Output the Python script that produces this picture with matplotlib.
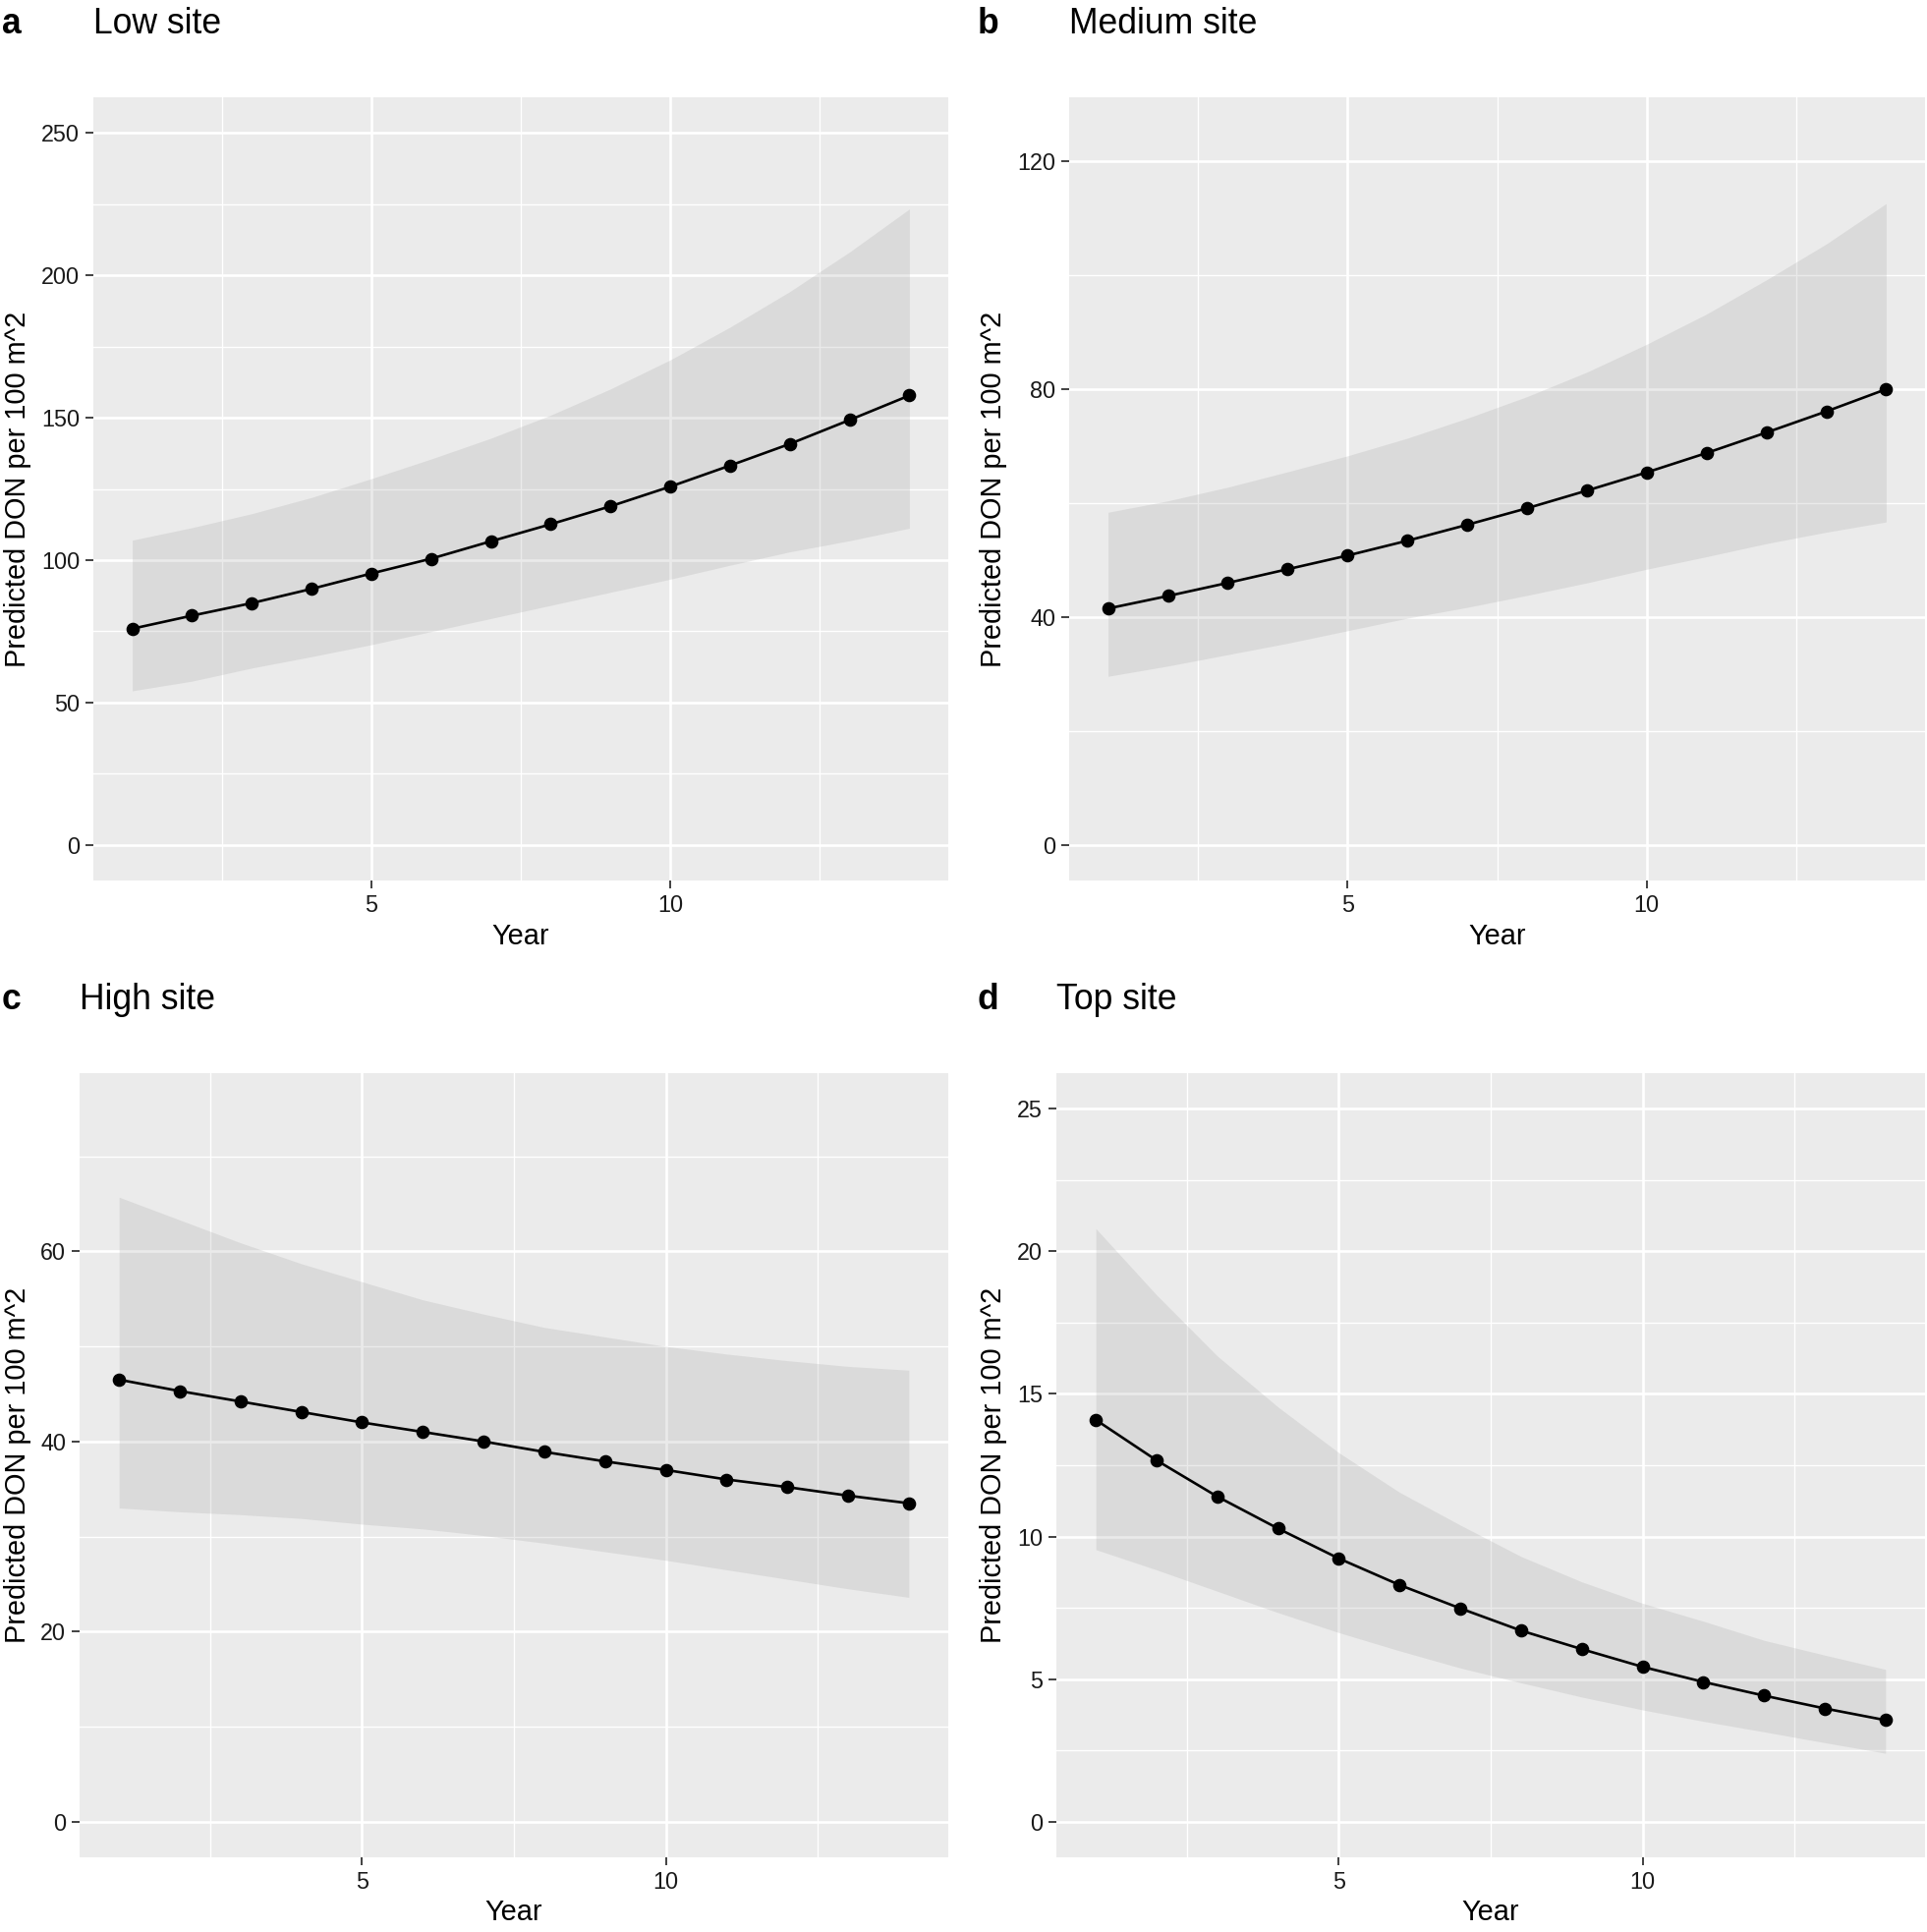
"""
Predicted DON per 100 m^2 over time, four site classes (ggplot-like grey theme).
"""
import matplotlib
matplotlib.use('Agg')
import matplotlib.pyplot as plt
import matplotlib.ticker as mticker

plt.rcParams['font.family'] = ['Liberation Sans', 'DejaVu Sans']

# ── Data ──────────────────────────────────────────────────────────────────────
years = [1, 2, 3, 4, 5, 6, 7, 8, 9, 10, 11, 12, 13, 14]

low_fit = [75.9, 80.5, 84.9, 89.9, 95.3, 100.5, 106.6, 112.6, 118.9, 125.8, 133.2, 140.8, 149.2, 157.8]
low_upper = [107.0, 111.4, 116.3, 122.0, 128.6, 135.5, 142.8, 150.9, 160.1, 170.3, 181.8, 194.3, 208.2, 223.3]
low_lower = [54.1, 57.5, 62.1, 66.1, 70.3, 74.9, 79.5, 84.1, 88.7, 93.3, 98.2, 102.9, 106.8, 111.2]

med_fit = [41.5, 43.7, 46.0, 48.4, 50.8, 53.4, 56.2, 59.1, 62.2, 65.4, 68.8, 72.4, 76.1, 80.0]
med_upper = [58.4, 60.4, 62.8, 65.5, 68.3, 71.4, 74.9, 78.7, 83.0, 87.9, 93.2, 99.2, 105.5, 112.6]
med_lower = [29.6, 31.4, 33.4, 35.4, 37.6, 39.8, 41.7, 43.8, 46.0, 48.4, 50.6, 52.9, 54.9, 56.7]

high_fit = [46.5, 45.3, 44.2, 43.1, 42.0, 41.0, 40.0, 38.9, 37.9, 37.0, 36.0, 35.2, 34.3, 33.5]
high_upper = [65.7, 63.3, 60.9, 58.7, 56.8, 54.9, 53.4, 52.0, 51.0, 50.0, 49.2, 48.5, 47.9, 47.5]
high_lower = [33.0, 32.6, 32.3, 31.9, 31.3, 30.8, 30.1, 29.3, 28.4, 27.5, 26.5, 25.5, 24.5, 23.6]

top_fit = [14.09, 12.67, 11.40, 10.28, 9.23, 8.30, 7.48, 6.70, 6.05, 5.43, 4.90, 4.42, 3.97, 3.56]
top_upper = [20.8, 18.47, 16.33, 14.54, 12.94, 11.55, 10.40, 9.30, 8.41, 7.66, 7.03, 6.36, 5.84, 5.34]
top_lower = [9.54, 8.83, 8.08, 7.33, 6.63, 5.99, 5.39, 4.87, 4.37, 3.92, 3.52, 3.15, 2.77, 2.40]

tags = ['a', 'b', 'c', 'd']
titles = ['Low site', 'Medium site', 'High site', 'Top site']
y_limits = [(0, 250), (0, 125), (0, 75), (0, 25)]
y_major = [[0, 50, 100, 150, 200, 250], [0, 40, 80, 120], [0, 20, 40, 60], [0, 5, 10, 15, 20, 25]]
y_minor = [[25, 75, 125, 175, 225], [20, 60, 100], [10, 30, 50, 70], [2.5, 7.5, 12.5, 17.5, 22.5]]
x_major = [5, 10]
x_minor = [2.5, 7.5, 12.5]

fits = [low_fit, med_fit, high_fit, top_fit]
uppers = [low_upper, med_upper, high_upper, top_upper]
lowers = [low_lower, med_lower, high_lower, top_lower]

# ── Layout (pixel boxes of the four panels: left, top, right, bottom) ─────────
W, H = 1961, 1966
boxes = [(95, 99, 965, 896), (1088, 99, 1959, 896),
         (81, 1092, 965, 1890), (1075, 1092, 1959, 1890)]
tag_x = [2, 995, 2, 995]
ylab_x = [18, 1011, 18, 1011]
xlab_y = [953, 953, 1946, 1946]

PANEL_BG = '#EBEBEB'
TEXT_DARK = '#1A1A1A'

fig = plt.figure(figsize=(W / 100, H / 100), dpi=100)

for i in range(4):
    l, t, r, b = boxes[i]
    ax = fig.add_axes([l / W, 1 - b / H, (r - l) / W, (b - t) / H])
    ax.set_facecolor(PANEL_BG)

    ax.fill_between(years, lowers[i], uppers[i], color='#999999', alpha=0.2,
                    linewidth=0, zorder=2)
    ax.plot(years, fits[i], color='black', linewidth=1.9, zorder=3)
    ax.plot(years, fits[i], 'o', color='black', markersize=8.8, zorder=4)

    # ggplot-like 5% expansion
    lo, hi = y_limits[i]
    pad = (hi - lo) * 0.05
    ax.set_ylim(lo - pad, hi + pad)
    ax.set_xlim(1 - 0.65, 14 + 0.65)

    ax.yaxis.set_major_locator(mticker.FixedLocator(y_major[i]))
    ax.yaxis.set_minor_locator(mticker.FixedLocator(y_minor[i]))
    ax.xaxis.set_major_locator(mticker.FixedLocator(x_major))
    ax.xaxis.set_minor_locator(mticker.FixedLocator(x_minor))
    ax.yaxis.set_major_formatter(mticker.FuncFormatter(lambda v, _: f"{v:g}"))

    ax.set_axisbelow(True)
    ax.grid(which='major', color='white', linewidth=1.9, zorder=0)
    ax.grid(which='minor', color='white', linewidth=0.95, zorder=0)

    ax.tick_params(which='major', length=6, width=1.3, color='#333333',
                   labelsize=16.8, labelcolor=TEXT_DARK, pad=4)
    ax.tick_params(which='minor', length=0)
    for s in ax.spines.values():
        s.set_visible(False)

    # title, tag and axis titles
    ax.set_title(titles[i], loc='left', fontsize=25.6, pad=47)
    fig.text(tag_x[i] / W, 1 - 34 / H - (0 if i < 2 else 993 / H), tags[i],
             fontsize=25.6, fontweight='bold', ha='left', va='baseline')
    fig.text(ylab_x[i] / W, 1 - (t + b) / 2 / H, 'Predicted DON per 100 m^2',
             rotation=90, fontsize=20.8, ha='center', va='center')
    fig.text((l + r) / 2 / W, 1 - xlab_y[i] / H, 'Year',
             fontsize=20.8, ha='center', va='center')

fig.savefig('out.png', dpi=100)
plt.close(fig)
print("Saved: out.png")
